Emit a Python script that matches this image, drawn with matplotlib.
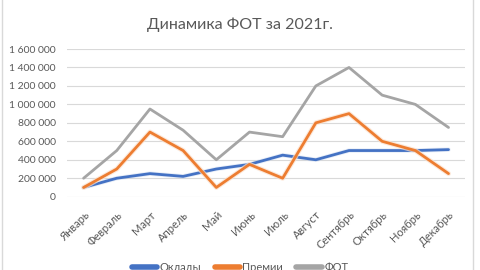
import matplotlib
matplotlib.use("Agg")
from matplotlib import pyplot as plt
import matplotlib.patheffects as pe
from matplotlib.ticker import FuncFormatter
from matplotlib.patches import Rectangle

months = ["Январь", "Февраль", "Март", "Апрель", "Май", "Июнь",
          "Июль", "Август", "Сентябрь", "Октябрь", "Ноябрь", "Декабрь"]
oklady = [100000, 200000, 250000, 220000, 300000, 350000,
          450000, 400000, 500000, 500000, 500000, 510000]
premii = [100000, 300000, 700000, 500000, 100000, 350000,
          200000, 800000, 900000, 600000, 500000, 250000]
fot = [200000, 500000, 950000, 720000, 400000, 700000,
       650000, 1200000, 1400000, 1100000, 1000000, 750000]

plt.rcParams['font.family'] = ['Lato', 'DejaVu Sans']

fig = plt.figure(figsize=(4.8, 2.7), dpi=100)
ax = fig.add_axes([0.1396, 0.2715, 0.8294, 0.547])

# рамка области диаграммы
fig.patches.append(Rectangle((0.004, -0.01), 0.981, 1.02, transform=fig.transFigure,
                             fill=False, edgecolor="#D9D9D9", linewidth=1))

x = range(len(months))
ax.plot(x, oklady, color="#4472C4", linewidth=2.0, label="Оклады", solid_capstyle="round",
        path_effects=[pe.Stroke(linewidth=3.2, foreground="#B4C7E7", alpha=0.3), pe.Normal()])
ax.plot(x, premii, color="#ED7D31", linewidth=2.0, label="Премии", solid_capstyle="round",
        path_effects=[pe.Stroke(linewidth=3.6, foreground="#FBE0CC", alpha=0.7), pe.Normal()])
ax.plot(x, fot, color="#A5A5A5", linewidth=2.0, label="ФОТ", solid_capstyle="round")

ax.set_xlim(-0.5, len(months) - 0.5)
ax.set_ylim(0, 1600000)
ax.set_yticks(range(0, 1600001, 200000))
ax.yaxis.set_major_formatter(FuncFormatter(lambda v, p: f"{int(v):,}".replace(",", " ")))
ax.grid(axis="y", color="#D9D9D9", linewidth=0.8)
ax.set_axisbelow(True)
for s in ax.spines.values():
    s.set_visible(False)
ax.tick_params(length=0, colors="#595959", labelsize=7.5)
ax.tick_params(axis="y", pad=8)

ax.set_xticks(list(x))
ax.set_xticklabels(months, rotation=45, ha="right", rotation_mode="anchor", fontsize=8)
ax.tick_params(axis="x", pad=9)

fig.suptitle("Динамика ФОТ за 2021г.", y=0.935, fontsize=11.5, color="#595959")

fig.legend(loc="center", bbox_to_anchor=(0.5, 0.008), ncol=3, frameon=False,
           fontsize=8, labelcolor="#595959", handlelength=2.3, columnspacing=1.2,
           handletextpad=0.2)
for line in fig.legends[0].get_lines():
    line.set_linewidth(4)
    line.set_path_effects([])

fig.savefig("out.png", dpi=100)
